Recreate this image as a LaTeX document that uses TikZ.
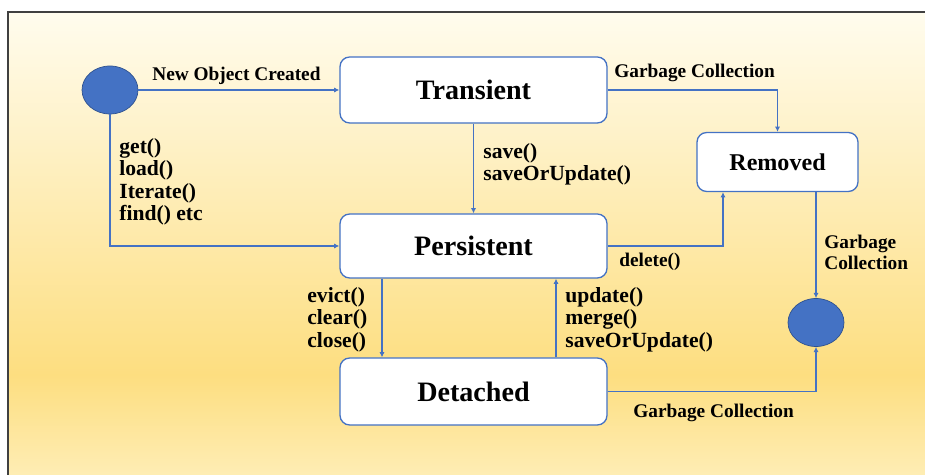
\documentclass[tikz,border=0pt]{standalone}
\usepackage{fontspec}
\setmainfont{Liberation Serif}
\usetikzlibrary{arrows.meta, shapes.geometric, positioning, calc}
\definecolor{StateBlue}{RGB}{68,114,196}
\definecolor{StateNavy}{RGB}{47,82,143}
\definecolor{FrameGray}{RGB}{64,64,64}
\definecolor{BgTop}{RGB}{255,252,238}
\definecolor{BgGold}{RGB}{253,222,128}
\definecolor{BgBottom}{RGB}{254,237,180}
% fondo: blanco arriba, dorado abajo
\pgfdeclareverticalshading{bgfade}{100bp}{color(0bp)=(BgBottom); color(25bp)=(BgBottom);
	color(35.8bp)=(BgGold); color(75bp)=(BgTop); color(100bp)=(BgTop)}

\begin{document}
\begin{tikzpicture}[font=\bfseries,
	state/.style={rectangle, rounded corners=5.5pt, draw=StateBlue, line width=0.75pt,
		fill=white, minimum width=5.34cm, minimum height=1.32cm,
		font=\fontsize{16}{19}\selectfont\bfseries},
	dot/.style={ellipse, draw=StateNavy, line width=0.4pt, fill=StateBlue,
		minimum width=1.12cm, minimum height=0.96cm, inner sep=0pt},
	flow/.style={draw=StateBlue, line width=0.7pt, -{Latex[length=3pt, width=3pt]}},
	call/.style={anchor=north west, align=left, inner sep=0pt,
		font=\fontsize{12.3}{12.8}\selectfont\bfseries},
	gc/.style={inner sep=0pt, font=\fontsize{11}{12}\selectfont\bfseries}]
	\useasboundingbox (0,0) rectangle (18.5,9.5);
	% marco con degradado
	\shade[shading=bgfade] (0.16,0) rectangle (18.5,9.26);
	\draw[FrameGray, line width=1.1pt] (0.16,0) |- (18.5,9.26);
	% estados
	\node[dot] (start) at (2.2,7.7) {};
	\node[state] (transient) at (9.47,7.7) {Transient};
	\node[state, minimum height=1.28cm] (persistent) at (9.47,4.58) {Persistent};
	\node[state, minimum height=1.34cm] (detached) at (9.47,1.67) {Detached};
	\node[state, minimum width=3.22cm, minimum height=1.18cm,
		font=\fontsize{13.7}{16}\selectfont\bfseries] (removed) at (15.55,6.26) {Removed};
	\node[dot] (end) at (16.32,3.05) {};
	% transiciones
	\draw[flow] (start) -- (transient);
	\draw[flow] (start) |- (persistent);
	\draw[flow] (transient) -| (removed);
	\draw[flow] (transient) -- (persistent);
	\draw[flow] (persistent.east) -| ([xshift=-1.09cm]removed.south);
	\draw[flow] (end.north |- removed.south) -- (end);
	\draw[flow] ([xshift=-1.83cm]persistent.south) -- ([xshift=-1.83cm]detached.north);
	\draw[flow] ([xshift=1.65cm]detached.north) -- ([xshift=1.65cm]persistent.south);
	\draw[flow] (detached) -| (end);
	% etiquetas
	\node[gc, anchor=base west] (lblNew) at (3.04,7.88) {New Object Created};
	\node[gc, anchor=base west] (lblGcTop) at (12.28,7.94) {Garbage Collection};
	\node[call] (lblGet) at (2.38,6.74) {get()\\load()\\Iterate()\\find() etc};
	\node[call] (lblSave) at (9.66,6.64) {save()\\saveOrUpdate()};
	\node[gc, anchor=base west] (lblDelete) at (12.38,4.16) {delete()};
	\node[gc, anchor=north west, align=left] (lblGcEnd) at (16.48,4.80) {Garbage\\Collection};
	\node[call] (lblEvict) at (6.14,3.76) {evict()\\clear()\\close()};
	\node[call] (lblUpdate) at (11.30,3.76) {update()\\merge()\\saveOrUpdate()};
	\node[gc, anchor=base west] (lblGcBottom) at (12.66,1.14) {Garbage Collection};
\end{tikzpicture}
\end{document}
